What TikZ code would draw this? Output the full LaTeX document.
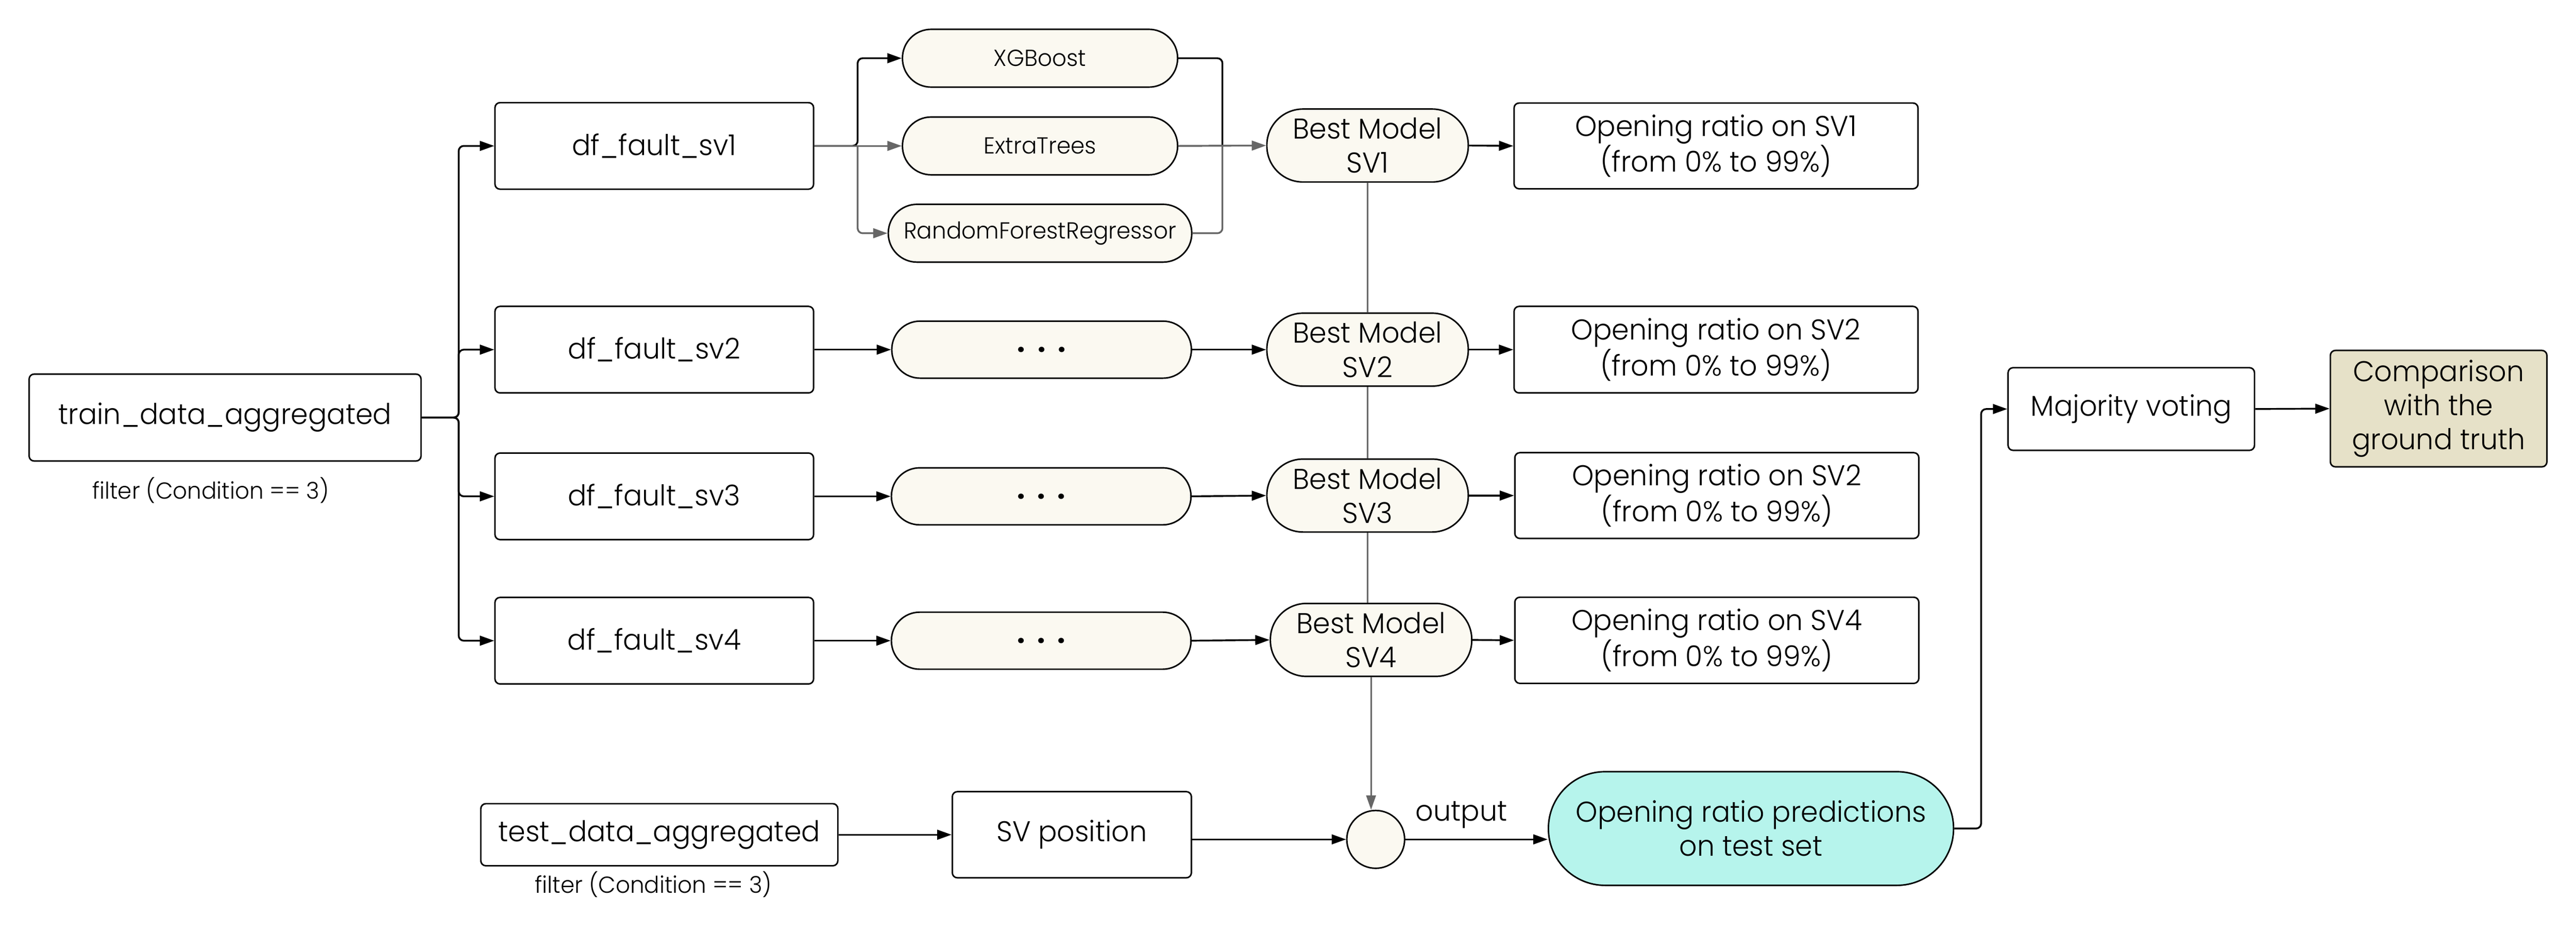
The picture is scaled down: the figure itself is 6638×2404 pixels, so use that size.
\documentclass[tikz,border=0pt]{standalone}
\usepackage{fontspec}
\setmainfont{Poppins}[UprightFont={* Light}, BoldFont={* Bold}, FakeStretch=0.97]
\usetikzlibrary{arrows.meta,shapes.geometric}
\definecolor{cream}{HTML}{FBF9F1}
\definecolor{cyanfill}{HTML}{B6F4EC}
\definecolor{tanfill}{HTML}{E6E1C8}
\definecolor{lgray}{HTML}{666666}
\tikzset{
  bigfont/.style={font=\fontsize{21}{25}\selectfont},
  smallfont/.style={font=\fontsize{17}{20}\selectfont},
  databox/.style={draw, line width=1.1pt, rounded corners=1.3mm, align=center, inner sep=0pt, bigfont},
  pill/.style={draw, line width=1.1pt, fill=cream, align=center, inner sep=0pt},
  conn/.style={line width=1.3pt, -{Triangle[length=3.7mm,width=2.5mm]}},
  plain/.style={line width=1.3pt},
  gconn/.style={line width=1.3pt, draw=lgray, -{Triangle[length=3.7mm,width=2.5mm]}},
  gplain/.style={line width=1.3pt, draw=lgray},
  gthin/.style={line width=1pt, draw=lgray},
}
\newcommand{\mydots}{\textbf{.}\hspace{3.2mm}\textbf{.}\hspace{3.2mm}\textbf{.}}
\begin{document}
\begin{tikzpicture}[x=0.1mm,y=-0.1mm]
\useasboundingbox (0,0) rectangle (6638,2404);

% left data
\node[databox, minimum width=101mm, minimum height=22.4mm] (train) at (580,1076) {train\_data\_aggregated};
\node[smallfont] (filt1) at (543,1264) {filter (Condition == 3)};

\node[databox, minimum width=82.1mm, minimum height=22.3mm] (sv1) at (1686,376) {df\_fault\_sv1};
\node[databox, minimum width=82.1mm, minimum height=22.3mm] (sv2) at (1686,901) {df\_fault\_sv2};
\node[databox, minimum width=82.1mm, minimum height=22.3mm] (sv3) at (1686,1279) {df\_fault\_sv3};
\node[databox, minimum width=82.1mm, minimum height=22.3mm] (sv4) at (1686,1651) {df\_fault\_sv4};

% models
\node[pill, rounded corners=7.4mm, minimum width=70.9mm, minimum height=14.9mm, smallfont] (xgb) at (2680,150) {XGBoost};
\node[pill, rounded corners=7.4mm, minimum width=70.9mm, minimum height=14.9mm, smallfont] (et) at (2680,376) {ExtraTrees};
\node[pill, rounded corners=7.4mm, minimum width=78.2mm, minimum height=14.9mm, smallfont] (rf) at (2680,601) {RandomForestRegressor};

\node[pill, rounded corners=7.3mm, minimum width=77.2mm, minimum height=14.7mm, bigfont] (d2) at (2684,901) {\mydots};
\node[pill, rounded corners=7.3mm, minimum width=77.2mm, minimum height=14.7mm, bigfont] (d3) at (2683,1279) {\mydots};
\node[pill, rounded corners=7.3mm, minimum width=77.2mm, minimum height=14.7mm, bigfont] (d4) at (2683,1651) {\mydots};

% best models
\node[pill, rounded corners=9.3mm, minimum width=51.9mm, minimum height=18.8mm, bigfont] (bm1) at (3524,375) {Best Model\\SV1};
\node[pill, rounded corners=9.3mm, minimum width=51.9mm, minimum height=18.8mm, bigfont] (bm2) at (3524,901) {Best Model\\SV2};
\node[pill, rounded corners=9.3mm, minimum width=51.9mm, minimum height=18.8mm, bigfont] (bm3) at (3524,1277) {Best Model\\SV3};
\node[pill, rounded corners=9.3mm, minimum width=51.9mm, minimum height=18.8mm, bigfont] (bm4) at (3533,1649) {Best Model\\SV4};

% opening ratios
\node[databox, minimum width=104.1mm, minimum height=22.1mm] (or1) at (4422,376) {Opening ratio on SV1\\(from 0\% to 99\%)};
\node[databox, minimum width=104.1mm, minimum height=22.3mm] (or2) at (4422,901) {Opening ratio on SV2\\(from 0\% to 99\%)};
\node[databox, minimum width=104.1mm, minimum height=22.1mm] (or3) at (4424,1277) {Opening ratio on SV2\\(from 0\% to 99\%)};
\node[databox, minimum width=104.1mm, minimum height=22.2mm] (or4) at (4424,1650) {Opening ratio on SV4\\(from 0\% to 99\%)};

% test branch
\node[databox, minimum width=92mm, minimum height=16.0mm] (test) at (1699,2151) {test\_data\_aggregated};
\node[smallfont] (filt2) at (1684,2279) {filter (Condition == 3)};
\node[databox, minimum width=61.6mm, minimum height=22.2mm] (svpos) at (2762,2151) {SV position};
\node[circle, draw, line width=1.1pt, fill=cream, minimum size=14.9mm, inner sep=0pt] (circ) at (3545,2163) {};
\node[bigfont] (outlbl) at (3766,2100) {output};
\node[draw, line width=1.1pt, fill=cyanfill, rounded corners=14.6mm, minimum width=104.4mm, minimum height=29.3mm, align=center, inner sep=0pt, bigfont] (pred) at (4512,2135) {Opening ratio predictions\\on test set};

% voting
\node[databox, minimum width=63.5mm, minimum height=21.3mm] (maj) at (5492,1054) {Majority voting};
\node[databox, fill=tanfill, minimum width=55.8mm, minimum height=30.0mm] (cmp) at (6284,1053) {Comparison\\with the\\ground truth};

% connectors: train to sv
\coordinate (tr) at (1182,1076);
\foreach \s in {sv1,sv2,sv3,sv4}
  \draw[conn, rounded corners=1.3mm] (train.east) -- (tr) |- (\s.west);

% sv1 to models
\coordinate (sp) at (2210,376);
\draw[conn, rounded corners=1.3mm] (sv1.east) -- (sp) |- (xgb.west);
\draw[gconn, rounded corners=1.3mm] (sp) |- (rf.west);
\draw[gconn] (sv1.east) -- (et.west);

% models to best model 1
\coordinate (mg) at (3150,376);
\draw[plain, rounded corners=1.3mm] (xgb.east) -| (mg);
\draw[gplain, rounded corners=1.3mm] (rf.east) -| (mg);
\draw[gconn] (et.east) -- (bm1.west);

% other rows
\draw[conn] (sv2.east) -- (d2.west);
\draw[conn] (sv3.east) -- (d3.west);
\draw[conn] (sv4.east) -- (d4.west);
\draw[conn] (d2.east) -- (bm2.west);
\draw[conn] (d3.east) -- (bm3.west);
\draw[conn] (d4.east) -- (bm4.west);

\draw[conn] (bm1.east) -- (or1.west);
\draw[conn] (bm2.east) -- (or2.west);
\draw[conn] (bm3.east) -- (or3.west);
\draw[conn] (bm4.east) -- (or4.west);

% best model chain
\draw[gthin] (bm1.south) -- (bm2.north);
\draw[gthin] (bm2.south) -- (bm3.north);
\draw[gthin] (bm3.south) -- (bm3.south |- bm4.north);
\draw[gthin, -{Triangle[length=3.7mm,width=2.5mm]}] (bm4.south) -- (bm4.south |- circ.north);

% test branch
\draw[conn] (test.east) -- (svpos.west);
\draw[conn] (svpos.east |- circ.west) -- (circ.west);
\draw[conn] (circ.east) -- (circ.east -| pred.west);

\coordinate (jmp) at (5105,1600);
\draw[conn, rounded corners=1.3mm] (pred.east) -- (pred.east -| jmp) |- (maj.west);
\draw[conn] (maj.east) -- (cmp.west);
\end{tikzpicture}
\end{document}
